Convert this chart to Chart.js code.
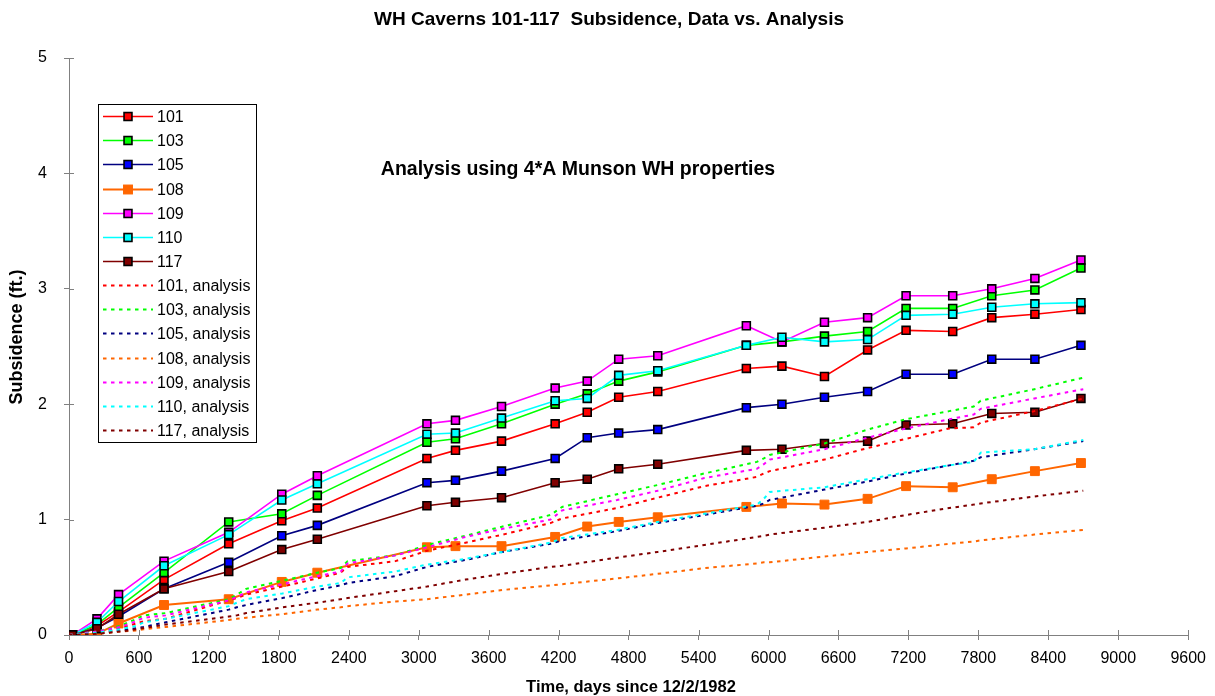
<!DOCTYPE html>
<html><head><meta charset="utf-8">
<script src="https://cdn.jsdelivr.net/npm/chart.js@4/dist/chart.umd.min.js"></script>
<style>html,body{margin:0;padding:0;background:#fff}#wrap{width:1215px;height:696px;position:relative}</style>
</head><body><div id="wrap"><canvas id="c" width="1215" height="696"></canvas></div>
<script>
const chartTitle = 'WH Caverns 101-117  Subsidence, Data vs. Analysis';
const noteText = 'Analysis using 4*A Munson WH properties';
const xTitle = 'Time, days since 12/2/1982';
const yTitle = 'Subsidence (ft.)';

const seriesNames = ['101', '103', '105', '108', '109', '110', '117'];

// measured data (days since 12/2/1982, subsidence ft)
const days = [30, 240, 425, 815, 1370, 1825, 2130, 3070, 3315, 3710, 4170, 4445, 4715, 5050, 5810, 6115, 6480, 6850, 7180, 7580, 7915, 8285, 8680];
const s101 = [0, 0.08, 0.20, 0.48, 0.79, 0.99, 1.10, 1.53, 1.60, 1.68, 1.83, 1.93, 2.06, 2.11, 2.31, 2.33, 2.24, 2.47, 2.64, 2.63, 2.75, 2.78, 2.82];
const s103 = [0, 0.09, 0.24, 0.54, 0.98, 1.05, 1.21, 1.67, 1.70, 1.83, 2.00, 2.09, 2.20, 2.28, 2.51, 2.54, 2.59, 2.63, 2.83, 2.83, 2.94, 2.99, 3.18];
const s105 = [0, 0.06, 0.16, 0.40, 0.63, 0.86, 0.95, 1.32, 1.34, 1.42, 1.53, 1.71, 1.75, 1.78, 1.97, 2.00, 2.06, 2.11, 2.26, 2.26, 2.39, 2.39, 2.51];
const s108 = [0, 0.01, 0.10, 0.26, 0.31, 0.46, 0.54, 0.76, 0.77, 0.77, 0.85, 0.94, 0.98, 1.02, 1.11, 1.14, 1.13, 1.18, 1.29, 1.28, 1.35, 1.42, 1.49];
const s109 = [0, 0.14, 0.35, 0.64, 0.89, 1.22, 1.38, 1.83, 1.86, 1.98, 2.14, 2.20, 2.39, 2.42, 2.68, 2.54, 2.71, 2.75, 2.94, 2.94, 3.00, 3.09, 3.25];
const s110 = [0, 0.11, 0.29, 0.60, 0.87, 1.17, 1.31, 1.74, 1.75, 1.88, 2.03, 2.05, 2.25, 2.29, 2.51, 2.58, 2.54, 2.56, 2.77, 2.78, 2.84, 2.87, 2.88];
const s117 = [0, 0.055, 0.18, 0.40, 0.55, 0.74, 0.83, 1.12, 1.15, 1.19, 1.32, 1.35, 1.44, 1.48, 1.60, 1.61, 1.66, 1.68, 1.82, 1.83, 1.92, 1.93, 2.05];

// analysis curves
const aDays = [0, 240, 440, 580, 640, 830, 1370, 1440, 1520, 1830, 2130, 2330, 2390, 2800, 3070, 3400, 3720, 4130, 4230, 4700, 5050, 5450, 5900, 5960, 6010, 6480, 6850, 7180, 7550, 7760, 7820, 8280, 8700];
const a101 = [0, 0.02, 0.06, 0.10, 0.12, 0.14, 0.30, 0.32, 0.35, 0.42, 0.49, 0.54, 0.59, 0.64, 0.73, 0.80, 0.87, 0.97, 1.01, 1.10, 1.19, 1.29, 1.37, 1.40, 1.42, 1.52, 1.62, 1.70, 1.79, 1.80, 1.84, 1.94, 2.05];
const a103 = [0, 0.03, 0.08, 0.14, 0.17, 0.19, 0.31, 0.35, 0.40, 0.47, 0.54, 0.58, 0.64, 0.69, 0.78, 0.86, 0.94, 1.04, 1.11, 1.22, 1.30, 1.40, 1.50, 1.53, 1.56, 1.66, 1.78, 1.87, 1.94, 1.98, 2.03, 2.13, 2.23];
const a105 = [0, 0.01, 0.04, 0.06, 0.07, 0.11, 0.22, 0.24, 0.26, 0.32, 0.39, 0.43, 0.45, 0.51, 0.59, 0.65, 0.72, 0.79, 0.82, 0.90, 0.97, 1.04, 1.12, 1.14, 1.17, 1.26, 1.33, 1.40, 1.47, 1.51, 1.54, 1.61, 1.68];
const a108 = [0, 0.01, 0.03, 0.04, 0.05, 0.07, 0.13, 0.14, 0.15, 0.18, 0.22, 0.24, 0.25, 0.29, 0.31, 0.35, 0.39, 0.43, 0.44, 0.49, 0.53, 0.58, 0.62, 0.63, 0.63, 0.68, 0.72, 0.75, 0.79, 0.81, 0.82, 0.87, 0.91];
const a109 = [0, 0.03, 0.07, 0.12, 0.15, 0.17, 0.30, 0.33, 0.37, 0.44, 0.51, 0.55, 0.62, 0.69, 0.76, 0.85, 0.92, 1.00, 1.08, 1.17, 1.25, 1.36, 1.44, 1.48, 1.52, 1.61, 1.71, 1.79, 1.87, 1.91, 1.96, 2.05, 2.13];
const a110 = [0, 0.02, 0.05, 0.08, 0.11, 0.14, 0.25, 0.28, 0.31, 0.36, 0.42, 0.45, 0.50, 0.55, 0.61, 0.66, 0.72, 0.80, 0.84, 0.91, 0.98, 1.05, 1.13, 1.18, 1.24, 1.28, 1.35, 1.41, 1.47, 1.50, 1.58, 1.61, 1.69];
const a117 = [0, 0.01, 0.03, 0.05, 0.06, 0.09, 0.16, 0.17, 0.19, 0.24, 0.28, 0.31, 0.32, 0.38, 0.42, 0.48, 0.53, 0.59, 0.60, 0.67, 0.72, 0.78, 0.85, 0.86, 0.87, 0.93, 0.98, 1.04, 1.10, 1.13, 1.14, 1.20, 1.25];

const dataSeries = [s101, s103, s105, s108, s109, s110, s117];
const analysisSeries = [a101, a103, a105, a108, a109, a110, a117];
const lineColors = ['#FF0000', '#00FF00', '#000080', '#FF6600', '#FF00FF', '#00FFFF', '#800000'];
const markerColors = ['#FF0000', '#00FF00', '#0000FF', '#FF6600', '#FF00FF', '#00FFFF', '#800000'];

const FONT = '"Liberation Sans", Arial, Helvetica, sans-serif';

const datasets = [];
seriesNames.forEach((name, i) => {
  const isOrange = name === '108';
  datasets.push({
    label: name,
    data: days.map((d, k) => ({x: d, y: dataSeries[i][k]})),
    borderColor: lineColors[i],
    borderWidth: isOrange ? 2 : 1.6,
    pointStyle: 'rect',
    pointRadius: isOrange ? 6.3 : 5.6,
    pointBackgroundColor: markerColors[i],
    pointBorderColor: isOrange ? markerColors[i] : '#000000',
    pointBorderWidth: isOrange ? 1 : 1.6,
    tension: 0
  });
});
seriesNames.forEach((name, i) => {
  datasets.push({
    label: name + ', analysis',
    data: aDays.map((d, k) => ({x: d, y: analysisSeries[i][k]})),
    borderColor: lineColors[i],
    borderWidth: 2,
    borderDash: [3.5, 4.5],
    borderCapStyle: 'butt',
    pointRadius: 0,
    tension: 0
  });
});
datasets.forEach((ds, i) => { ds.order = datasets.length - i; });

const crossTicks = {
  id: 'crossTicks',
  beforeDatasetsDraw(chart) {
    const ctx = chart.ctx, xs = chart.scales.x, ys = chart.scales.y;
    ctx.save();
    ctx.strokeStyle = '#808080'; ctx.lineWidth = 1;
    ctx.beginPath();
    xs.ticks.forEach((t, i) => { const px = Math.round(xs.getPixelForTick(i)) + 0.5; ctx.moveTo(px, ys.bottom); ctx.lineTo(px, ys.bottom - 5); });
    ys.ticks.forEach((t, i) => { const py = Math.round(ys.getPixelForTick(i)) + 0.5; ctx.moveTo(xs.left, py); ctx.lineTo(xs.left + 5, py); });
    ctx.stroke();
    ctx.restore();
  }
};

const texts = {
  id: 'texts',
  afterDraw(chart) {
    const ctx = chart.ctx;
    ctx.save();
    ctx.fillStyle = '#000';
    ctx.textAlign = 'center'; ctx.textBaseline = 'middle';
    ctx.font = 'bold 19px ' + FONT;
    ctx.fillText(chartTitle, 609, 20);
    ctx.font = 'bold 19.5px ' + FONT;
    ctx.fillText(noteText, 578, 170);
    ctx.font = 'bold 16.5px ' + FONT;
    ctx.fillText(xTitle, 631, 687);
    ctx.translate(17, 337); ctx.rotate(-Math.PI / 2);
    ctx.font = 'bold 18px ' + FONT;
    ctx.fillText(yTitle, 0, 0);
    ctx.restore();
  }
};

const boxLegend = {
  id: 'boxLegend',
  afterDraw(chart) {
    const ctx = chart.ctx;
    const x0 = 98, y0 = 104, w = 158, h = 338, row = h / 14;
    ctx.save();
    ctx.fillStyle = '#fff'; ctx.fillRect(x0, y0, w, h);
    ctx.strokeStyle = '#000'; ctx.lineWidth = 1; ctx.strokeRect(x0 + 0.5, y0 + 0.5, w, h);
    chart.data.datasets.forEach((ds, i) => {
      const cy = Math.round(y0 + row * (i + 0.5)) + 0.5;
      ctx.beginPath();
      ctx.setLineDash(ds.borderDash || []);
      ctx.strokeStyle = ds.borderColor; ctx.lineWidth = ds.borderWidth; ctx.lineCap = 'butt';
      ctx.moveTo(103, cy); ctx.lineTo(153, cy); ctx.stroke();
      ctx.setLineDash([]);
      if (ds.pointRadius > 0) {
        const s = ds.pointRadius * Math.SQRT1_2;
        ctx.fillStyle = ds.pointBackgroundColor;
        ctx.fillRect(128 - s, cy - s, 2 * s, 2 * s);
        ctx.strokeStyle = ds.pointBorderColor; ctx.lineWidth = ds.pointBorderWidth;
        ctx.strokeRect(128 - s, cy - s, 2 * s, 2 * s);
      }
      ctx.fillStyle = '#000';
      ctx.font = '16px ' + FONT;
      ctx.textAlign = 'left'; ctx.textBaseline = 'middle';
      ctx.fillText(ds.label, 157, cy + 1);
    });
    ctx.restore();
  }
};

new Chart(document.getElementById('c'), {
  type: 'line',
  data: {datasets},
  options: {
    responsive: false,
    animation: false,
    devicePixelRatio: 1,
    layout: {padding: {top: 58, right: 26, left: 0, bottom: 0}},
    plugins: {legend: {display: false}, title: {display: false}, tooltip: {enabled: false}},
    scales: {
      x: {
        type: 'linear', min: 0, max: 9600,
        ticks: {stepSize: 600, color: '#000', font: {size: 16, family: FONT}, padding: 9, maxRotation: 0, autoSkip: false, callback: v => String(v)},
        grid: {drawOnChartArea: false, drawTicks: true, tickLength: 5, color: '#808080'},
        border: {color: '#808080', width: 1},
        afterFit(s) { s.height = 61; }
      },
      y: {
        type: 'linear', min: 0, max: 5,
        ticks: {stepSize: 1, color: '#000', font: {size: 16, family: FONT}, padding: 17, callback: v => String(v)},
        grid: {drawOnChartArea: false, drawTicks: true, tickLength: 5, color: '#808080'},
        border: {color: '#808080', width: 1},
        afterFit(s) { s.width = 69; }
      }
    }
  },
  plugins: [crossTicks, texts, boxLegend]
});
</script></body></html>
